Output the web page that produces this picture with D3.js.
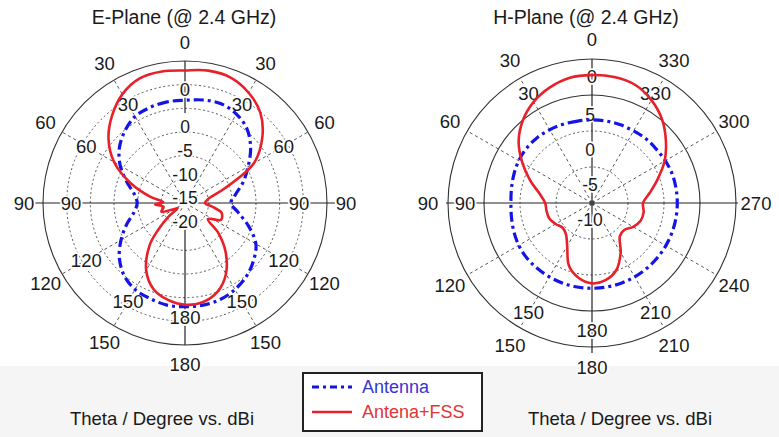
<!DOCTYPE html>
<html><head><meta charset="utf-8">
<script src="https://cdn.jsdelivr.net/npm/d3@7"></script>
<style>html,body{margin:0;padding:0;background:#fff;} svg{display:block;}</style>
</head><body><svg id="c" width="779" height="437"></svg>
<script>
// ---------- DATA ----------
const titles = ["E-Plane (@ 2.4 GHz)", "H-Plane (@ 2.4 GHz)"];
const seriesNames = ["Antenna", "Antena+FSS"];
const axisCaption = "Theta / Degree vs. dBi";

// E-plane, angle in degrees (counter-clockwise from top), gain in dBi
const eRedAngles = [0,10,20,30,40,50,60,70,80,88,93,100,110,120,125,130,135,140,150,160,170,180,190,200,210,220,228,235,245,255,262,270,280,290,300,310,320,330,340,350];
const eRedDb     = [12.0,12.2,12.0,10.5,8.0,5.1,1.3,-3.8,-8.6,-11.4,-9.7,-11.4,-10.7,-13.5,-14.1,-11.4,-8.0,-4.4,0.4,3.4,4.8,5.5,5.3,4.0,1.3,-2.7,-6.5,-10.1,-7.6,-8.0,-10.1,-11.8,-11.0,-7.2,0.8,5.3,8.8,10.9,12.2,12.4];
const eBlueAngles = [0,10,20,30,40,50,60,70,80,90,100,110,120,130,140,150,160,170,180,190,200,210,220,230,240,250,260,270,280,290,300,310,320,330,340,350];
const eBlueDb     = [5.7,5.7,5.5,5.1,3.8,2.1,-0.2,-2.9,-5.1,-5.9,-5.1,-2.9,-0.4,2.1,4.0,5.1,5.5,5.9,5.9,5.9,5.7,5.1,4.2,2.9,1.3,-1.7,-4.6,-6.3,-5.1,-2.9,-0.6,2.1,4.4,5.7,6.3,6.1];

// H-plane
const hAngles  = [0,10,20,30,40,50,60,70,80,90,100,110,120,130,140,150,160,170,180,190,200,210,220,230,240,250,260,270,280,290,300,310,320,330,340,350];
const hRedDb   = [10.7,10.6,10.0,9.1,7.8,6.1,3.9,1.8,0.0,-0.9,-1.0,-1.1,-1.6,-2.1,-1.8,-0.5,2.0,3.3,3.9,3.6,2.6,0.6,-1.4,-1.6,-0.8,-0.2,-0.1,-0.3,0.8,2.4,4.4,6.2,8.0,9.4,10.4,10.7];
const hBlueDb  = [4.3,4.3,4.4,4.5,4.6,4.6,4.5,4.3,4.1,4.0,4.1,4.3,4.5,4.6,4.6,4.6,4.6,4.6,4.6,4.6,4.6,4.6,4.6,4.6,4.6,4.6,4.6,4.6,4.6,4.6,4.5,4.4,4.4,4.3,4.3,4.3];

// tick labels
const angleTicks = [0,30,60,90,120,150,180,210,240,270,300,330];
const eAngleLabels = ["0","30","60","90","120","150","180","150","120","90","60","30"];
const hAngleLabels = ["0","30","60","90","120","150","180","210","240","270","300","330"];
const hInnerTicks = [0,30,90,150,180,210,330];
const eRadialTicks = [0,-5,-10,-15,-20];
const hRadialTicks = [5,0,-5,-10];

// ---------- DRAW ----------
const svg = d3.select('#c');
const FONT = "'Liberation Sans', Arial, sans-serif";
const RED = "#e8202a", BLUE = "#1414e6";
svg.append('rect').attr('width',779).attr('height',437).attr('fill','#fff');
svg.append('rect').attr('y',366).attr('width',779).attr('height',71).attr('fill','#f5f5f5');

function pt(deg, rad){ const a = deg*Math.PI/180; return [-rad*Math.sin(a), -rad*Math.cos(a)]; }

function panel(cfg){
  const g = svg.append('g').attr('transform',`translate(${cfg.cx},${cfg.cy})`);
  const r = d3.scaleLinear().domain(cfg.domain).range([0,cfg.R]);
  cfg.rings.forEach(ring=>{
    g.append('circle').attr('r',ring.f*cfg.R).attr('fill','none')
      .attr('stroke', ring.solid ? '#333' : '#555')
      .attr('stroke-width', ring.solid ? 1.1 : 1)
      .attr('stroke-dasharray', ring.solid ? null : '2,2.5');
  });
  [30,60,120,150,210,240,300,330].forEach(a=>{
    const p = pt(a, cfg.R);
    g.append('line').attr('x1',0).attr('y1',0).attr('x2',p[0]).attr('y2',p[1])
      .attr('stroke','#555').attr('stroke-width',1).attr('stroke-dasharray','3,3');
  });
  g.append('line').attr('x1',-cfg.R-cfg.hExt).attr('x2',cfg.R+cfg.hExt).attr('y1',0).attr('y2',0)
    .attr('stroke','#222').attr('stroke-width',1.2);
  cfg.vSegs.forEach(s=>{
    g.append('line').attr('x1',0).attr('x2',0).attr('y1',s[0]).attr('y2',s[1])
      .attr('stroke','#222').attr('stroke-width',1.2);
  });
  if (cfg.centerDot) g.append('circle').attr('r',2.6).attr('fill','#444');
  const lab = (x,y,t,size)=> g.append('text').attr('x',x).attr('y',y).text(t)
      .attr('text-anchor','middle').attr('dominant-baseline','central')
      .attr('font-family',FONT).attr('font-size',size).attr('fill','#1a1a1a')
      .attr('stroke','#fff').attr('stroke-width',3.5).attr('paint-order','stroke')
      .attr('stroke-linejoin','round');
  angleTicks.forEach((a,i)=>{ const p = pt(a, cfg.outerLabR); lab(p[0],p[1],cfg.angleLabels[i],18.5); });
  angleTicks.forEach((a,i)=>{
    if (cfg.innerTicks && cfg.innerTicks.indexOf(a) < 0) return;
    const p = pt(a, cfg.innerLabR); lab(p[0],p[1],cfg.angleLabels[i],18.5);
  });
  cfg.radialTicks.forEach(v=>{ lab(cfg.radX, -r(v), String(v), 17.5); });
  const line = d3.lineRadial().angle(d=>-d[0]*Math.PI/180).radius(d=>r(d[1]))
    .curve(d3.curveCatmullRomClosed.alpha(0.5));
  const blue = cfg.blueA.map((a,i)=>[a,cfg.blueDb[i]]);
  const red  = cfg.redA.map((a,i)=>[a,cfg.redDb[i]]);
  g.append('path').attr('d',line(blue)).attr('fill','none').attr('stroke',BLUE)
    .attr('stroke-width',3.2).attr('stroke-dasharray','10,4,3,4');
  g.append('path').attr('d',line(red)).attr('fill','none').attr('stroke',RED)
    .attr('stroke-width',2.6).attr('stroke-linejoin','round');
}

panel({cx:185, cy:203, R:142, domain:[-16,14], hExt:8,
  rings:[{f:1/6},{f:2/6},{f:3/6},{f:4/6},{f:5/6},{f:1,solid:true}],
  vSegs:[[-142,-90],[20,142]],
  outerLabR:161, innerLabR:114, angleLabels:eAngleLabels,
  radialTicks:eRadialTicks, radX:0,
  blueA:eBlueAngles, blueDb:eBlueDb, redA:eRedAngles, redDb:eRedDb});

panel({cx:592, cy:203, R:144, domain:[-7.6,13], hExt:2,
  rings:[{f:0.25},{f:0.5},{f:0.75,solid:true},{f:1,solid:true}],
  vSegs:[[-144,150]], centerDot:true,
  outerLabR:164, innerLabR:127, angleLabels:hAngleLabels, innerTicks:hInnerTicks,
  radialTicks:hRadialTicks, radX:-2,
  blueA:hAngles, blueDb:hBlueDb, redA:hAngles, redDb:hRedDb});

[[184,titles[0]],[586,titles[1]]].forEach(t=>{
  svg.append('text').attr('x',t[0]).attr('y',24).text(t[1]).attr('text-anchor','middle')
    .attr('font-family',FONT).attr('font-size',19.5).attr('fill','#1a1a1a');
});
[[162],[620]].forEach(t=>{
  svg.append('text').attr('x',t[0]).attr('y',425).text(axisCaption).attr('text-anchor','middle')
    .attr('font-family',FONT).attr('font-size',18.5).attr('fill','#1a1a1a');
});
const lg = svg.append('g');
lg.append('rect').attr('x',303).attr('y',373).attr('width',179).attr('height',58)
  .attr('fill','#fff').attr('stroke','#222').attr('stroke-width',2);
lg.append('line').attr('x1',312).attr('x2',352).attr('y1',387).attr('y2',387)
  .attr('stroke',BLUE).attr('stroke-width',3).attr('stroke-dasharray','7,4,3,4');
lg.append('line').attr('x1',312).attr('x2',352).attr('y1',412).attr('y2',412)
  .attr('stroke',RED).attr('stroke-width',2.5);
lg.append('text').attr('x',362).attr('y',393).text(seriesNames[0])
  .attr('font-family',FONT).attr('font-size',18).attr('fill','#3535d5');
lg.append('text').attr('x',362).attr('y',418).text(seriesNames[1])
  .attr('font-family',FONT).attr('font-size',18).attr('fill','#e03535');
</script></body></html>
